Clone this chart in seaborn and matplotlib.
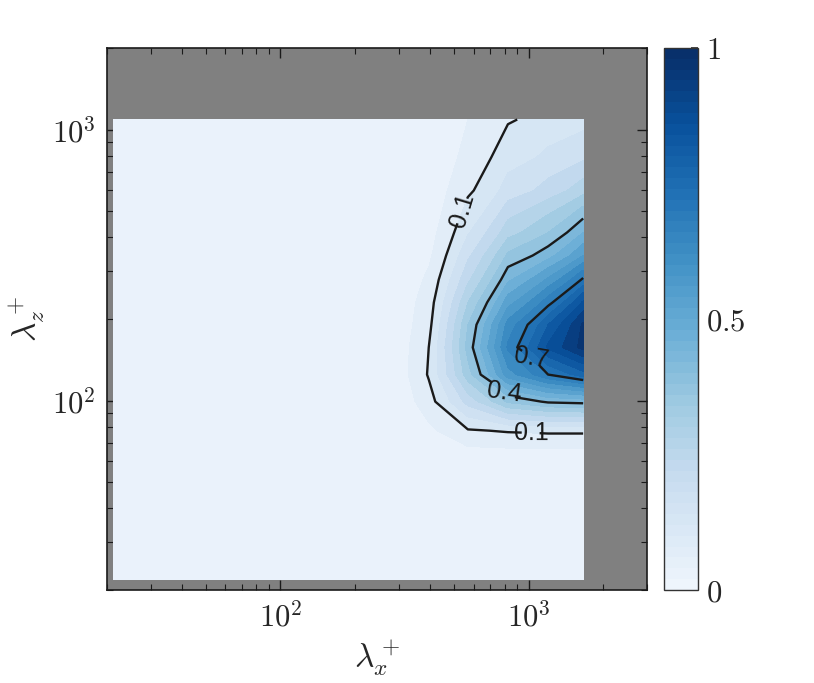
import numpy as np
import matplotlib
matplotlib.use("Agg")
import matplotlib.pyplot as plt
import seaborn as sns
from matplotlib.colors import ListedColormap, Normalize
from matplotlib.cm import ScalarMappable
from matplotlib.ticker import LogLocator, NullFormatter, FixedLocator, FixedFormatter

# ---- data ----
lambda_x = [21.2, 29.9, 43.3, 62.8, 91.1, 132.2, 191.8, 278.1, 396.0, 569.2, 825.7, 1198.0, 1659.0]
lambda_z = [21.8, 31.2, 43.9, 59.0, 77.4, 99.1, 124.7, 157.0, 190.5, 230.1, 279.3, 342.8, 416.9, 595.7, 788.8, 1089.0]

row_01 = [0, 0, 0, 0, 0, 0, 0, 0,     0.0,   0.0,   0.0,   0.0,  0.0]
row_02 = [0, 0, 0, 0, 0, 0, 0, 0,     0.0,   0.0,   0.0,   0.0,  0.0]
row_03 = [0, 0, 0, 0, 0, 0, 0, 0,     0.003, 0.005, 0.005, 0.005, 0.005]
row_04 = [0, 0, 0, 0, 0, 0, 0, 0,     0.01,  0.01,  0.01,  0.01, 0.01]
row_05 = [0, 0, 0, 0, 0, 0, 0, 0,     0.04,  0.095, 0.105, 0.11, 0.11]
row_06 = [0, 0, 0, 0, 0, 0, 0, 0.005, 0.08,  0.22,  0.36,  0.41, 0.42]
row_07 = [0, 0, 0, 0, 0, 0, 0, 0.01,  0.105, 0.33,  0.58,  0.70, 0.78]
row_08 = [0, 0, 0, 0, 0, 0, 0, 0.01,  0.10,  0.37,  0.66,  0.86, 0.97]
row_09 = [0, 0, 0, 0, 0, 0, 0, 0.01,  0.085, 0.35,  0.62,  0.80, 0.96]
row_10 = [0, 0, 0, 0, 0, 0, 0, 0.01,  0.075, 0.30,  0.53,  0.68, 0.86]
row_11 = [0, 0, 0, 0, 0, 0, 0, 0.005, 0.06,  0.24,  0.44,  0.56, 0.71]
row_12 = [0, 0, 0, 0, 0, 0, 0, 0,     0.04,  0.19,  0.36,  0.43, 0.55]
row_13 = [0, 0, 0, 0, 0, 0, 0, 0,     0.03,  0.145, 0.28,  0.35, 0.45]
row_14 = [0, 0, 0, 0, 0, 0, 0, 0,     0.02,  0.09,  0.17,  0.22, 0.28]
row_15 = [0, 0, 0, 0, 0, 0, 0, 0,     0.015, 0.065, 0.13,  0.16, 0.19]
row_16 = [0, 0, 0, 0, 0, 0, 0, 0,     0.01,  0.05,  0.095, 0.12, 0.13]

contour_levels = [0.1, 0.4, 0.7]
xtick_vals = [100, 1000]
xtick_labels = [r"$10^2$", r"$10^3$"]
ytick_vals = [100, 1000]
ytick_labels = [r"$10^2$", r"$10^3$"]
cbar_ticks = [0, 0.5, 1]
cbar_labels = [r"$0$", r"$0.5$", r"$1$"]

Z = np.array([row_01, row_02, row_03, row_04, row_05, row_06, row_07, row_08,
              row_09, row_10, row_11, row_12, row_13, row_14, row_15, row_16])
X, Y = np.meshgrid(lambda_x, lambda_z)

# ---- style ----
sns.set_theme(style="white")
plt.rcParams["font.family"] = ["DejaVu Sans"]
plt.rcParams["mathtext.fontset"] = "cm"

blues = sns.color_palette("Blues", as_cmap=True)
cmap50 = ListedColormap(blues(np.linspace(0.05, 1, 50)))
norm = Normalize(0, 1)

fig = plt.figure(figsize=(8.14, 6.83), dpi=100)
ax = fig.add_axes([0.1314, 0.1362, 0.6634, 0.7936])
cax = fig.add_axes([0.8157, 0.1362, 0.0418, 0.7936])

ax.set_facecolor("#808080")
ax.contourf(X, Y, Z, levels=np.linspace(0, 1, 21), cmap=cmap50, norm=norm)
cs = ax.contour(X, Y, Z, levels=contour_levels, colors="k", linewidths=1.7)
ax.clabel(cs, fmt="%g", fontsize=18, inline=True, inline_spacing=8,
          manual=[(548, 502), (1023, 75), (795, 104), (1023, 135)])
for t in cs.labelTexts:
    t.set_fontfamily("Liberation Sans")

ax.set_xscale("log")
ax.set_yscale("log")
ax.set_xlim(20, 3000)
ax.set_ylim(20, 2000)

ax.xaxis.set_major_locator(FixedLocator(xtick_vals))
ax.xaxis.set_major_formatter(FixedFormatter(xtick_labels))
ax.yaxis.set_major_locator(FixedLocator(ytick_vals))
ax.yaxis.set_major_formatter(FixedFormatter(ytick_labels))
ax.xaxis.set_minor_locator(LogLocator(base=10, subs=np.arange(2, 10)))
ax.yaxis.set_minor_locator(LogLocator(base=10, subs=np.arange(2, 10)))
ax.xaxis.set_minor_formatter(NullFormatter())
ax.yaxis.set_minor_formatter(NullFormatter())
ax.tick_params(which="both", direction="in", top=True, right=True,
               bottom=True, left=True, color="k", labelsize=22, pad=8)
ax.tick_params(which="major", length=7, width=1)
ax.tick_params(which="minor", length=4, width=0.8)
for s in ax.spines.values():
    s.set_color("k")
    s.set_linewidth(1.2)

ax.set_xlabel(r"$\lambda_x^+$", fontsize=24, labelpad=4)
ax.set_ylabel(r"$\lambda_z^+$", fontsize=24, labelpad=4)

cb = fig.colorbar(ScalarMappable(norm=norm, cmap=cmap50), cax=cax)
cb.set_ticks(cbar_ticks)
cb.set_ticklabels(cbar_labels)
cb.ax.tick_params(direction="in", right=True, length=5, labelsize=22, pad=6, color="#333333")
cb.outline.set_edgecolor("#333333")
cb.outline.set_linewidth(1.0)

fig.savefig("out.png", dpi=100)
